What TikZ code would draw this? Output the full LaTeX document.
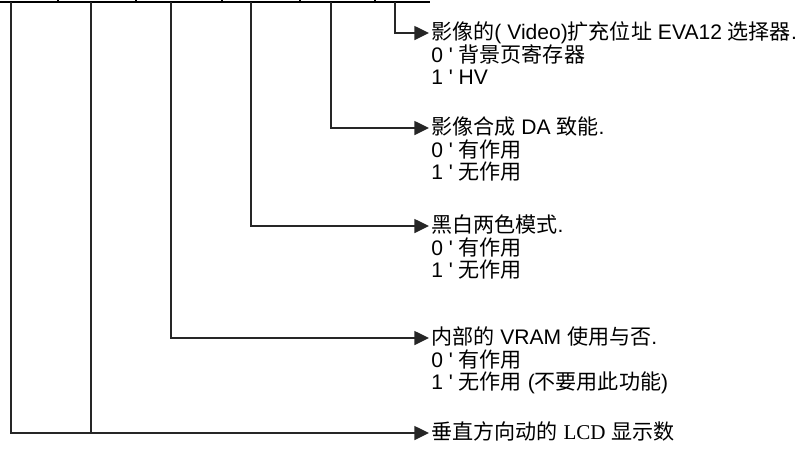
\documentclass[tikz,border=0pt]{standalone}
\usepackage{fontspec}
\setmainfont{Liberation Sans}
\newfontfamily\cjk{Noto Sans CJK SC}
\newfontfamily\lcdfont{Liberation Serif}
\usetikzlibrary{arrows.meta,positioning}
\tikzset{
  wire/.style={line width=1.1pt, draw=black!85},
  arr/.style={wire, -{Triangle[length=11pt,width=10.5pt]}, shorten >=1.5pt},
  fieldtitle/.style={anchor=west, inner sep=0pt, text height=14pt, text depth=4pt,
    font=\fontsize{15.8}{16.5}\selectfont},
  fieldopts/.style={inner sep=0pt, align=left, font=\fontsize{15.8}{16.6}\selectfont}
}
\newcommand{\q}{\textquotesingle\ }
\newcommand{\fstrut}{\rule{0pt}{14pt}}

\begin{document}
\begin{tikzpicture}[x=0.75pt,y=-0.75pt]
    \useasboundingbox (0,0) rectangle (802,455);
    % bottom edge of the register cells
    \draw[line width=1.6pt] (-5,2) -- (430,2);
    \foreach \x in {58,136,222,300,375}
      \draw[line width=1.1pt] (\x,-6) -- (\x,2);
    % bit taps
    \foreach \x/\n in {11/b0,91/b1,171/b2,251/b3,331/b4,395/b5}
      \coordinate (\n) at (\x,2);

    \node[fieldtitle] (t5) at (431,33) {{\cjk 影像的}( Video){\cjk 扩充位址} EVA12 {\cjk 选择器}.};
    \node[fieldopts, below=-1.6pt of t5.south west, anchor=north west] (o5)
      {\fstrut 0 \q{\cjk 背景页寄存器}\\1 \q HV};

    \node[fieldtitle] (t4) at (431,128) {{\cjk 影像合成} DA {\cjk 致能}.};
    \node[fieldopts, below=-1.6pt of t4.south west, anchor=north west] (o4)
      {\fstrut 0 \q{\cjk 有作用}\\1 \q{\cjk 无作用}};

    \node[fieldtitle] (t3) at (431,226) {{\cjk 黑白两色模式}.};
    \node[fieldopts, below=-1.6pt of t3.south west, anchor=north west] (o3)
      {\fstrut 0 \q{\cjk 有作用}\\1 \q{\cjk 无作用}};

    \node[fieldtitle] (t2) at (431,338) {{\cjk 内部的} VRAM {\cjk 使用与否}.};
    \node[fieldopts, below=-1.6pt of t2.south west, anchor=north west] (o2)
      {\fstrut 0 \q{\cjk 有作用}\\1 \q{\cjk 无作用} ({\cjk 不要用此功能})};

    \node[fieldtitle] (t0) at (431,433) {{\cjk 垂直方向动的} {\lcdfont LCD} {\cjk 显示数}};

    \draw[arr] (b5) |- (t5.west);
    \draw[arr] (b4) |- (t4.west);
    \draw[arr] (b3) |- (t3.west);
    \draw[arr] (b2) |- (t2.west);
    \draw[arr] (b0) |- (t0.west);
    \draw[wire] (b1) -- (b1 |- t0.west);
\end{tikzpicture}
\end{document}
